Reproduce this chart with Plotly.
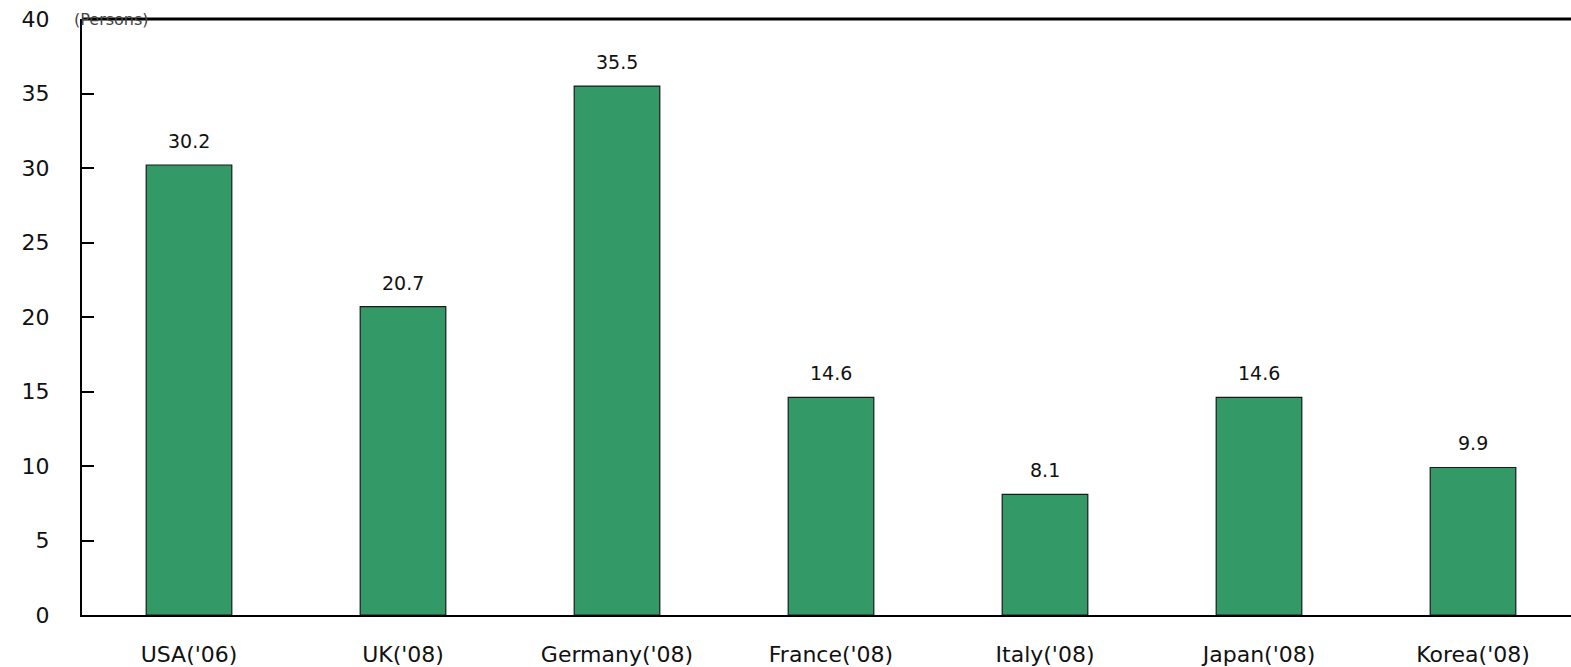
import plotly.graph_objects as go

categories = ["USA('06)", "UK('08)", "Germany('08)", "France('08)", "Italy('08)", "Japan('08)", "Korea('08)"]
values = [30.2, 20.7, 35.5, 14.6, 8.1, 14.6, 9.9]
labels = ["30.2", "20.7", "35.5", "14.6", "8.1", "14.6", "9.9"]
y_ticks = [0, 5, 10, 15, 20, 25, 30, 35, 40]

font_family = "DejaVu Sans"

fig = go.Figure()
fig.add_trace(go.Bar(
    x=categories, y=values, width=0.4,
    marker=dict(color="#339966", line=dict(color="#1a1a1a", width=1.2)),
    hoverinfo="skip",
))

for c, v, t in zip(categories, values, labels):
    fig.add_annotation(x=c, y=v, text=t, showarrow=False, yanchor="middle",
                       yshift=24, font=dict(family=font_family, size=19, color="#111"))

fig.add_annotation(xref="paper", yref="paper", x=-0.007, y=1.0, text="(Persons)",
                   showarrow=False, xanchor="left", yanchor="middle",
                   font=dict(family=font_family, size=16, color="#444"))

fig.update_layout(
    width=1571, height=667,
    margin=dict(l=82, r=0, t=19, b=50),
    plot_bgcolor="white", paper_bgcolor="white",
    showlegend=False,
    xaxis=dict(
        range=[-0.5, 6.5 - (1580 - 1571) / 214.0],
        showline=True, linecolor="black", linewidth=2,
        mirror=False, ticks="", showgrid=False,
        ticklabelstandoff=19,
        tickfont=dict(family=font_family, size=22, color="#111"),
    ),
    yaxis=dict(
        range=[0, 40], tickvals=y_ticks,
        showline=True, linecolor="black", linewidth=2,
        ticks="inside", ticklen=12, tickcolor="black", tickwidth=1.5,
        showgrid=False, zeroline=False,
        ticklabelstandoff=26,
        tickfont=dict(family=font_family, size=22, color="#111"),
    ),
)
fig.add_shape(type="line", xref="paper", yref="paper", x0=0, x1=1, y0=1, y1=1,
              line=dict(color="black", width=3))

fig.write_html("out.html", config={"displayModeBar": False},
               post_script="document.body.style.margin='0';document.body.style.overflow='hidden';")
